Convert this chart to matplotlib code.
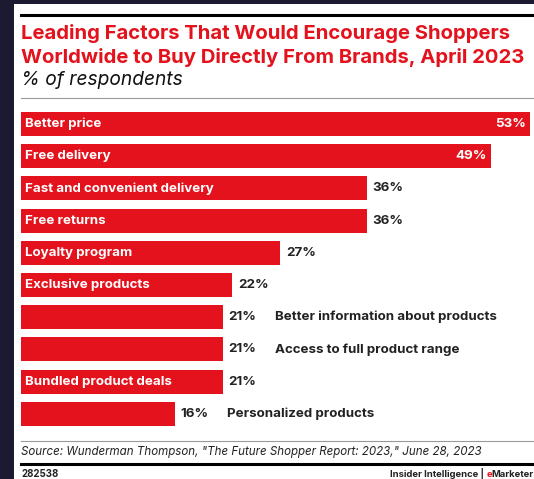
import matplotlib
matplotlib.use("Agg")
import matplotlib.pyplot as plt
from matplotlib.patches import Rectangle
from matplotlib.lines import Line2D

# ---- data
categories = [
    "Better price",
    "Free delivery",
    "Fast and convenient delivery",
    "Free returns",
    "Loyalty program",
    "Exclusive products",
    "Better information about products",
    "Access to full product range",
    "Bundled product deals",
    "Personalized products",
]
values = [53, 49, 36, 36, 27, 22, 21, 21, 21, 16]
# label drawn inside the bar (True) or after the value (False)
label_inside = [True, True, True, True, True, True, False, False, True, False]

title_lines = ["Leading Factors That Would Encourage Shoppers",
               "Worldwide to Buy Directly From Brands, April 2023"]
subtitle = "% of respondents"
source = 'Source: Wunderman Thompson, "The Future Shopper Report: 2023," June 28, 2023'
chart_id = "282538"
brand = ["Insider Intelligence | ", "e", "Marketer"]

# ---- style
W, H = 534, 479
DPI = 100
RED = "#e3121c"
DARK = "#1c1a31"
TXT = "#222222"
FONT = "Inter"
LBL = 9.6

plt.rcParams["font.family"] = [FONT, "DejaVu Sans"]


def fx(x):
    return x / W


def fy(y):
    return 1 - y / H


fig = plt.figure(figsize=(W / DPI, H / DPI), dpi=DPI, facecolor=DARK)

# white card (behind everything)
fig.patches.append(Rectangle((fx(14), 0), 1, fy(4), transform=fig.transFigure,
                             facecolor="white", edgecolor="none", zorder=-5))

# rules
fig.add_artist(Line2D([fx(21), 1], [fy(14.5), fy(14.5)], color="black", lw=2.2))
fig.add_artist(Line2D([fx(21), 1], [fy(97.5), fy(97.5)], color="#9a9a9a", lw=0.8))
fig.add_artist(Line2D([fx(21), 1], [fy(441), fy(441)], color="#9a9a9a", lw=0.8))
fig.add_artist(Line2D([fx(21), 1], [fy(463.5), fy(463.5)], color="black", lw=2.2))

# titles
fig.text(fx(21), fy(39), title_lines[0], color=RED, fontsize=14.6,
         fontweight="bold", va="baseline", ha="left")
fig.text(fx(21), fy(63), title_lines[1], color=RED, fontsize=14.6,
         fontweight="bold", va="baseline", ha="left")
fig.text(fx(21), fy(85), subtitle, color="#111111", fontsize=13.8,
         style="italic", va="baseline", ha="left")

# ---- bars
px_per_pct = 9.6
pitch = 32.2
top = 124 - pitch / 2
ax = fig.add_axes([fx(21), fy(top + pitch * len(values)), fx(W - 21), pitch * len(values) / H])
ax.set_xlim(0, (W - 21) / px_per_pct)
ax.set_ylim(len(values) - 0.5, -0.5)
ax.axis("off")

ypos = list(range(len(values)))
ax.barh(ypos, values, height=24 / pitch, color=RED, edgecolor="none")

for i, (cat, v, inside) in enumerate(zip(categories, values, label_inside)):
    if v >= 45:
        ax.annotate(f"{v}%", (v, i), xytext=(-3, 0), textcoords="offset points",
                    ha="right", va="center", color="white", fontsize=LBL, fontweight="bold")
    else:
        ax.annotate(f"{v}%", (v, i), xytext=(4, 0), textcoords="offset points",
                    ha="left", va="center", color=TXT, fontsize=LBL, fontweight="bold")
    if inside:
        ax.annotate(cat, (0, i), xytext=(3, 0), textcoords="offset points",
                    ha="left", va="center", color="white", fontsize=LBL, fontweight="bold")
    else:
        ax.annotate(cat, (v, i), xytext=(37.5, 0), textcoords="offset points",
                    ha="left", va="center", color=TXT, fontsize=LBL, fontweight="bold")

# ---- footer
fig.text(fx(21), fy(455), source, color="#222222", fontsize=8.3,
         style="italic", va="baseline", ha="left")
fig.text(fx(21), fy(477), chart_id, color="#222222", fontsize=7,
         fontweight="bold", va="baseline", ha="left")

renderer = fig.canvas.get_renderer()
x = 390
for part, col in zip(brand, [TXT, RED, TXT]):
    t = fig.text(fx(x), fy(477), part, color=col, fontsize=6.8,
                 fontweight="bold", va="baseline", ha="left")
    x += t.get_window_extent(renderer).width

fig.savefig("out.png", dpi=DPI, facecolor=DARK)
